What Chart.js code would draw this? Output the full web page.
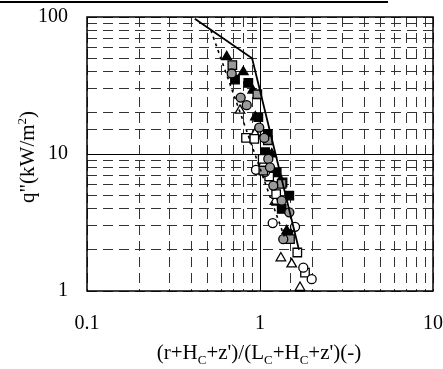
<!DOCTYPE html>
<html>
<head>
<meta charset="utf-8">
<script src="https://cdn.jsdelivr.net/npm/chart.js@4"></script>
<style>
  body { margin: 0; background: #fff; }
  #wrap { position: relative; width: 443px; height: 369px; font-family: "Liberation Serif", serif; }
  #topRule { position: absolute; left: 0; top: 1px; width: 388px; height: 2px; background: #000; }
  .ttl { position: absolute; font-size: 21px; color: #000; white-space: nowrap; }
  #xTitle { left: 259px; top: 354px; transform: translate(-50%, -50%); }
  #yTitle { left: 27px; top: 157px; transform: translate(-50%, -50%) rotate(-90deg); }
  sub, sup { font-size: 13px; }
</style>
</head>
<body>
<div id="wrap">
  <canvas id="chart" width="443" height="369"></canvas>
  <div id="topRule"></div>
  <div class="ttl" id="xTitle">(r+H<sub>C</sub>+z')/(L<sub>C</sub>+H<sub>C</sub>+z')(-)</div>
  <div class="ttl" id="yTitle">q"(kW/m<sup>2</sup>)</div>
</div>
<script>
// tick labels shown on the axes
const xTickLabels = [0.1, 1, 10];
const yTickLabels = [1, 10, 100];

// measured series (x = dimensionless distance, y = heat flux kW/m2)
const openTriX   = [0.766, 0.936, 1.045, 1.221, 1.44, 1.32, 1.525, 1.703];
const openTriY   = [20.8, 14.1, 8.5, 4.5, 2.4, 1.74, 1.57, 1.06];
const fillTriX   = [0.642, 0.801, 0.907, 0.94, 1.17, 1.32, 1.249, 1.427];
const fillTriY   = [51.2, 39.7, 29.2, 18.6, 10.0, 6.4, 4.44, 2.75];
const openSqX    = [0.830, 0.927, 1.036, 1.13, 1.24, 1.643, 1.82];
const openSqY    = [13.1, 12.9, 9.2, 6.85, 5.1, 1.91, 1.36];
const fillSqX    = [0.717, 0.856, 0.978, 1.11, 1.07, 1.249, 1.35, 1.477, 1.335, 1.458];
const fillSqY    = [34.9, 33.0, 18.6, 14.0, 10.3, 7.36, 6.2, 4.97, 3.97, 2.6];
const openCircX  = [0.948, 1.07, 1.184, 1.594, 1.78, 1.99];
const openCircY  = [7.66, 7.4, 3.13, 2.94, 1.48, 1.22];
const dotCircX   = [0.686, 0.773, 0.838, 0.99, 1.059, 1.117, 1.142, 1.194, 1.335, 1.477, 1.363];
const dotCircY   = [38.7, 25.8, 22.7, 15.6, 13.1, 9.2, 8.0, 5.88, 4.56, 3.75, 2.39];
const dotSqX     = [0.692, 0.965, 1.11, 1.045, 1.335, 1.491];
const dotSqY     = [44.5, 27.3, 12.6, 7.57, 6.05, 2.39];

// correlation lines
const solidLineX  = [0.42, 0.9, 1.68];
const solidLineY  = [97, 50, 2];
const dottedLineX = [0.52, 1.38];
const dottedLineY = [80, 2.5];

const pts = (xs, ys) => xs.map((x, i) => ({ x: x, y: ys[i] }));
const isDecade = v => { const l = Math.log10(v); return Math.abs(l - Math.round(l)) < 1e-6; };

function markers(xs, ys, style, fill, r) {
  return {
    data: pts(xs, ys), pointStyle: style, pointRadius: r, pointHoverRadius: r,
    backgroundColor: fill, borderColor: '#000', borderWidth: 1.3, showLine: false
  };
}

// solid box + solid major grid lines (x=1, y=10)
const frame = {
  id: 'frame',
  beforeDatasetsDraw(chart) {
    const { ctx, chartArea: a, scales } = chart;
    ctx.save();
    ctx.strokeStyle = '#000';
    ctx.lineWidth = 1;
    ctx.setLineDash([]);
    const x1 = Math.round(scales.x.getPixelForValue(1)) + 0.5;
    const y10 = Math.round(scales.y.getPixelForValue(10)) + 0.5;
    ctx.beginPath();
    ctx.moveTo(x1, a.top); ctx.lineTo(x1, a.bottom);
    ctx.moveTo(a.left, y10); ctx.lineTo(a.right, y10);
    ctx.stroke();
    ctx.lineWidth = 1.5;
    ctx.strokeRect(a.left, a.top, a.right - a.left, a.bottom - a.top);
    ctx.restore();
  }
};

new Chart(document.getElementById('chart'), {
  type: 'scatter',
  data: {
    datasets: [
      { data: pts(solidLineX, solidLineY), showLine: true, borderColor: '#000', borderWidth: 1.8,
        pointRadius: 0, fill: false, order: 0 },
      { data: pts(dottedLineX, dottedLineY), showLine: true, borderColor: '#000', borderWidth: 1.6,
        borderDash: [3, 4], pointRadius: 0, fill: false, order: 0 },
      markers(dotCircX, dotCircY, 'circle', '#9a9a9a', 4.5),
      markers(dotSqX, dotSqY, 'rect', '#9a9a9a', 6),
      markers(openCircX, openCircY, 'circle', '#fff', 4.5),
      markers(openSqX, openSqY, 'rect', '#fff', 6),
      markers(openTriX, openTriY, 'triangle', '#fff', 5.5),
      markers(fillSqX, fillSqY, 'rect', '#000', 6),
      markers(fillTriX, fillTriY, 'triangle', '#000', 5.5)
    ]
  },
  options: {
    responsive: false,
    animation: false,
    layout: { padding: { left: 0, top: 17, right: 10, bottom: 0 } },
    plugins: { legend: { display: false }, tooltip: { enabled: false } },
    scales: {
      x: {
        type: 'logarithmic', min: 0.1, max: 10,
        // fixed height, and keep tick padding from widening the side margins
        afterFit: s => { s.height = 78; s.paddingLeft = 0; s.paddingRight = 10; },
        grid: { color: '#333', lineWidth: 1, drawTicks: false },
        border: { display: false, dash: [10, 6] },
        ticks: {
          autoSkip: false, maxRotation: 0, padding: 21, color: '#000',
          font: { family: 'Liberation Serif', size: 20 },
          callback: v => (isDecade(v) && xTickLabels.includes(+v.toPrecision(3))) ? String(+v.toPrecision(3)) : ''
        }
      },
      y: {
        type: 'logarithmic', min: 1, max: 100,
        afterFit: s => { s.width = 87; s.paddingTop = 0; s.paddingBottom = 0; },
        grid: { color: '#333', lineWidth: 1, drawTicks: false },
        border: { display: false, dash: [10, 6] },
        ticks: {
          autoSkip: false, padding: 19, color: '#000',
          font: { family: 'Liberation Serif', size: 20 },
          callback: v => (isDecade(v) && yTickLabels.includes(+v.toPrecision(3))) ? String(+v.toPrecision(3)) : ''
        }
      }
    }
  },
  plugins: [frame]
});
</script>
</body>
</html>
